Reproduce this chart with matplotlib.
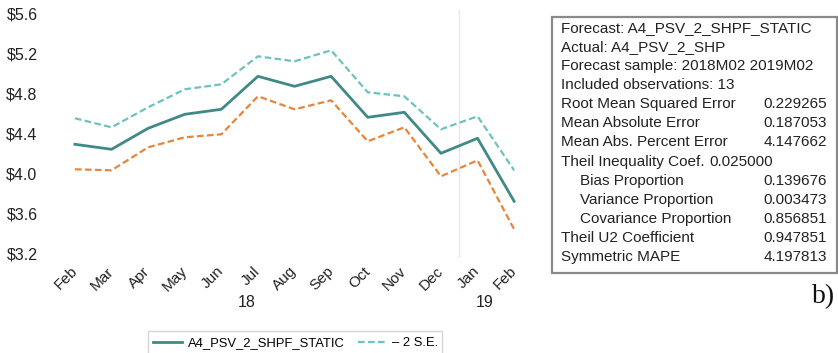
import matplotlib
matplotlib.use("Agg")
import matplotlib.pyplot as plt
from matplotlib.patches import Rectangle
from matplotlib.ticker import FuncFormatter

plt.rcParams['font.family'] = ['Liberation Sans', 'DejaVu Sans']

# ---- data -------------------------------------------------------------
months = ["Feb", "Mar", "Apr", "May", "Jun", "Jul", "Aug", "Sep", "Oct",
          "Nov", "Dec", "Jan", "Feb"]
years = ["18", "19"]
year_spans = [(0, 10), (11, 12)]          # month index range of each year
forecast = [4.29, 4.24, 4.45, 4.59, 4.64, 4.97, 4.87, 4.97, 4.56, 4.61, 4.20, 4.35, 3.72]
upper_2se = [4.55, 4.46, 4.66, 4.84, 4.89, 5.17, 5.12, 5.23, 4.81, 4.77, 4.44, 4.57, 4.03]
lower_2se = [4.04, 4.03, 4.26, 4.36, 4.39, 4.77, 4.64, 4.73, 4.32, 4.46, 3.97, 4.13, 3.44]
y_ticks = [3.2, 3.6, 4.0, 4.4, 4.8, 5.2, 5.6]

stat_labels = ["Forecast: A4_PSV_2_SHPF_STATIC", "Actual: A4_PSV_2_SHP",
               "Forecast sample: 2018M02 2019M02", "Included observations: 13",
               "Root Mean Squared Error", "Mean Absolute Error",
               "Mean Abs. Percent Error", "Theil Inequality Coef.",
               "Bias Proportion", "Variance Proportion", "Covariance Proportion",
               "Theil U2 Coefficient", "Symmetric MAPE"]
stat_values = ["", "", "", "", "0.229265", "0.187053", "4.147662", "0.025000",
               "0.139676", "0.003473", "0.856851", "0.947851", "4.197813"]
stat_indent = [False] * 8 + [True] * 3 + [False] * 2

# ---- figure -----------------------------------------------------------
W, H = 838, 353
fig = plt.figure(figsize=(W / 100, H / 100), dpi=100)


def fx(px):
    return px / W


def fy(py):
    return 1 - py / H


ax = fig.add_axes([fx(57), fy(258), fx(520) - fx(57), fy(10) - fy(258)])

teal = "#3f8a85"
light_teal = "#6dc2bf"
orange = "#e8853b"
x = list(range(len(months)))

ax.plot(x, forecast, color=teal, lw=2.0, label="A4_PSV_2_SHPF_STATIC", zorder=3)
ax.plot(x, upper_2se, color=light_teal, lw=1.6, ls=(0, (3.0, 1.5)), label="\u2013 2 S.E.", zorder=2)
ax.plot(x, lower_2se, color=orange, lw=1.6, ls=(0, (3.0, 1.5)), zorder=2)

# year separator
ax.axvline(10.5, color="#e6e6e6", lw=1.0, zorder=1)

ax.set_xlim(-0.49, 12.16)
ax.set_ylim(3.153, 5.633)
ax.set_yticks(y_ticks)
ax.yaxis.set_major_formatter(FuncFormatter(lambda v, p: f"${v:.1f}"))
ax.set_xticks(x)
ax.set_xticklabels(months, rotation=45, ha="right", va="center",
                   rotation_mode="anchor")
ax.tick_params(axis="x", length=0, pad=8, labelsize=11, colors="#222222")
ax.tick_params(axis="y", length=0, pad=14, labelsize=11.5, colors="#222222")
for s in ax.spines.values():
    s.set_visible(False)

# year labels under the month labels
for yr, (a, b) in zip(years, year_spans):
    ax.text((a + b) / 2 - 0.3, -0.18, yr, transform=ax.get_xaxis_transform(),
            ha="center", va="center", fontsize=11.5, color="#222222")

# legend
fig.legend(handles=ax.get_lines()[:2], loc="center left",
           bbox_to_anchor=(fx(153), fy(343)), ncol=2, frameon=False,
           fontsize=9.4, handlelength=2.2, handletextpad=0.45,
           columnspacing=1.0, borderpad=0, borderaxespad=0)
fig.patches.append(Rectangle((fx(148), fy(362)), fx(442) - fx(148), fy(331) - fy(362),
                             transform=fig.transFigure, fill=False,
                             edgecolor="#d6d6d6", lw=1.0))

# statistics box
fig.patches.append(Rectangle((fx(552), fy(272.5)), fx(837) - fx(552), fy(16.5) - fy(272.5),
                             transform=fig.transFigure, fill=False,
                             edgecolor="#8a8a8a", lw=1.6))
row0, step = 28.3, 19.03
for i, (lab, val, ind) in enumerate(zip(stat_labels, stat_values, stat_indent)):
    yy = fy(row0 + i * step)
    fig.text(fx(580 if ind else 561), yy, lab, ha="left", va="center",
             fontsize=11, color="#222222")
    if val:
        xr = 773 if lab.startswith("Theil Inequality") else 827
        fig.text(fx(xr), yy, val, ha="right", va="center",
                 fontsize=11, color="#222222")

fig.text(fx(824), fy(297), "b)", ha="center", va="center",
         fontsize=20, family="Liberation Serif", color="#111111")

fig.savefig("out.png", dpi=100)
